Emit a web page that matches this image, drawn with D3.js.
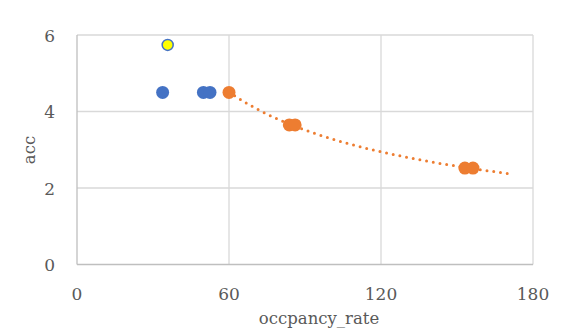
<!DOCTYPE html>
<html><head><meta charset="utf-8">
<script src="https://cdn.jsdelivr.net/npm/d3@7"></script>
<style>body{margin:0;background:#fff}svg{display:block}</style>
</head><body>
<svg id="c" width="573" height="332"></svg>
<script>
const blueX = [33.8, 49.9, 52.5];
const blueY = [4.5, 4.5, 4.5];
const yellowX = [35.8];
const yellowY = [5.74];
const orangeX = [60, 83.8, 86.1, 153.1, 156.3];
const orangeY = [4.5, 3.65, 3.65, 2.52, 2.52];
const xTicks = [0, 60, 120, 180];
const yTicks = [0, 2, 4, 6];
const trendRange = [60, 170];

const svg = d3.select("#c");
const x = d3.scaleLinear().domain([0, 180]).range([77, 533]);
const y = d3.scaleLinear().domain([0, 6]).range([264.5, 35]);
const font = "'DejaVu Serif', serif";
const txt = "#595959";

svg.append("g").selectAll("line").data(xTicks.slice(1)).join("line")
  .attr("x1", d => x(d)).attr("x2", d => x(d)).attr("y1", y(0)).attr("y2", y(6))
  .attr("stroke", "#D9D9D9").attr("stroke-width", 1.3);
svg.append("g").selectAll("line").data(yTicks.slice(1)).join("line")
  .attr("x1", x(0)).attr("x2", x(180)).attr("y1", d => y(d)).attr("y2", d => y(d))
  .attr("stroke", "#D9D9D9").attr("stroke-width", 1.3);
svg.append("line").attr("x1", x(0)).attr("x2", x(180)).attr("y1", y(0)).attr("y2", y(0))
  .attr("stroke", "#BFBFBF").attr("stroke-width", 1.3);
svg.append("line").attr("x1", x(0)).attr("x2", x(0)).attr("y1", y(0)).attr("y2", y(6))
  .attr("stroke", "#BFBFBF").attr("stroke-width", 1.3);

svg.append("g").selectAll("text").data(xTicks).join("text")
  .attr("x", d => x(d)).attr("y", 300).attr("text-anchor", "middle")
  .attr("font-family", font).attr("font-size", 17).attr("fill", txt).text(d => d);
svg.append("g").selectAll("text").data(yTicks).join("text")
  .attr("x", 55).attr("y", d => y(d) + 6.5).attr("text-anchor", "end")
  .attr("font-family", font).attr("font-size", 17).attr("fill", txt).text(d => d);

svg.append("text").attr("x", 319).attr("y", 324).attr("text-anchor", "middle")
  .attr("font-family", font).attr("font-size", 16.5).attr("fill", txt).text("occpancy_rate");
svg.append("text").attr("transform", "translate(35,150) rotate(-90)").attr("text-anchor", "middle")
  .attr("font-family", font).attr("font-size", 16.5).attr("fill", txt).text("acc");

const lx = orangeX.map(Math.log), ly = orangeY.map(Math.log);
const mx = d3.mean(lx), my = d3.mean(ly);
const b = d3.sum(lx.map((v, i) => (v - mx) * (ly[i] - my))) / d3.sum(lx.map(v => (v - mx) ** 2));
const a = Math.exp(my - b * mx);
const tx = d3.range(trendRange[0], trendRange[1] + 0.001, 1);
svg.append("path").datum(tx)
  .attr("d", d3.line().x(d => x(d)).y(d => y(a * Math.pow(d, b))))
  .attr("fill", "none").attr("stroke", "#ED7D31").attr("stroke-width", 3)
  .attr("stroke-linecap", "round").attr("stroke-dasharray", "0,6.8");

const pts = (xs, ys) => xs.map((v, i) => ({ x: v, y: ys[i] }));
svg.append("g").selectAll("circle").data(pts(blueX, blueY)).join("circle")
  .attr("cx", d => x(d.x)).attr("cy", d => y(d.y)).attr("r", 6.5).attr("fill", "#4472C4");
svg.append("g").selectAll("circle").data(pts(orangeX, orangeY)).join("circle")
  .attr("cx", d => x(d.x)).attr("cy", d => y(d.y)).attr("r", 6.5).attr("fill", "#ED7D31");
svg.append("g").selectAll("circle").data(pts(yellowX, yellowY)).join("circle")
  .attr("cx", d => x(d.x)).attr("cy", d => y(d.y)).attr("r", 5.5).attr("fill", "#FFFF00")
  .attr("stroke", "#4472C4").attr("stroke-width", 1.5);
</script>
</body></html>
